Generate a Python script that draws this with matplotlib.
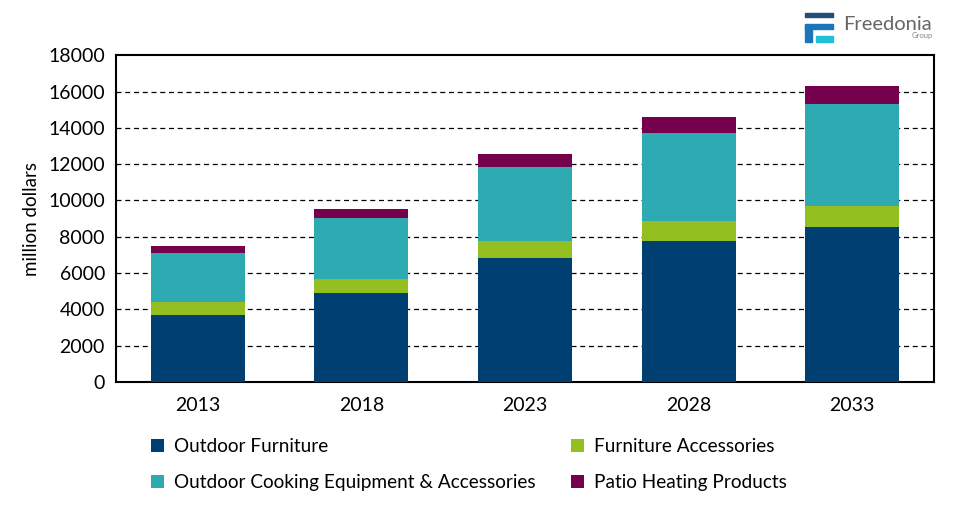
import matplotlib.pyplot as plt
import matplotlib.patches as mpatches
import numpy as np

plt.rcParams["font.family"] = ["Lato", "DejaVu Sans"]

years = ["2013", "2018", "2023", "2028", "2033"]
outdoor_furniture = [3700, 4915, 6840, 7775, 8545]
furniture_accessories = [720, 770, 935, 1100, 1175]
outdoor_cooking = [2695, 3360, 4075, 4840, 5595]
patio_heating = [385, 495, 715, 880, 990]

series = [
    ("Outdoor Furniture", outdoor_furniture, "#003f72"),
    ("Furniture Accessories", furniture_accessories, "#93bf21"),
    ("Outdoor Cooking Equipment & Accessories", outdoor_cooking, "#2eabb2"),
    ("Patio Heating Products", patio_heating, "#75004b"),
]

fig = plt.figure(figsize=(9.75, 5.11), dpi=100)
ax = fig.add_axes([0.119, 0.2524, 0.839, 0.6396])

x = np.arange(len(years))
bottom = np.zeros(len(years))
handles = {}
for name, vals, color in series:
    b = ax.bar(x, vals, 0.575, bottom=bottom, color=color, label=name, zorder=3)
    handles[name] = b
    bottom += np.array(vals)

ax.set_xlim(-0.5, len(years) - 0.5)
ax.set_ylim(0, 18000)
ax.set_yticks(np.arange(0, 18001, 2000))
ax.set_xticks(x)
ax.set_xticklabels(years)
ax.tick_params(axis="both", length=0, labelsize=14)
ax.tick_params(axis="x", pad=11)
ax.tick_params(axis="y", pad=8)
for yv in range(2000, 18000, 2000):
    ax.axhline(yv, color="black", linestyle=(0, (4, 3)), linewidth=0.9, zorder=1)
for s in ax.spines.values():
    s.set_linewidth(1.5)
ax.set_ylabel("million dollars", fontsize=13.5, labelpad=6)

order = ["Outdoor Furniture", "Outdoor Cooking Equipment & Accessories",
         "Furniture Accessories", "Patio Heating Products"]
fig.legend([handles[n] for n in order], order, ncol=2, loc="upper left",
           bbox_to_anchor=(0.147, 0.158), frameon=False, fontsize=13.7,
           handlelength=0.7, handleheight=0.7, handletextpad=0.5,
           columnspacing=1.87, labelspacing=1.0, borderaxespad=0)

# Freedonia logo
fig.patches.append(mpatches.Rectangle((805 / 975, 1 - 17 / 511), 28 / 975, 4 / 511,
                                      transform=fig.transFigure, color="#1f4e79"))
fig.patches.append(mpatches.Rectangle((805 / 975, 1 - 42 / 511), 7 / 975, 17 / 511,
                                      transform=fig.transFigure, color="#1b75bb"))
fig.patches.append(mpatches.Rectangle((805 / 975, 1 - 29 / 511), 28 / 975, 5 / 511,
                                      transform=fig.transFigure, color="#1b75bb"))
fig.patches.append(mpatches.Rectangle((816 / 975, 1 - 42 / 511), 17 / 975, 6 / 511,
                                      transform=fig.transFigure, color="#1fc0d8"))
fig.text(843 / 975, 1 - 24 / 511, "Freedonia", fontsize=14.5, color="#666666", va="center")
fig.text(933 / 975, 1 - 35 / 511, "Group", fontsize=5.5, color="#888888", va="center", ha="right")

fig.savefig("out.png", dpi=100)
